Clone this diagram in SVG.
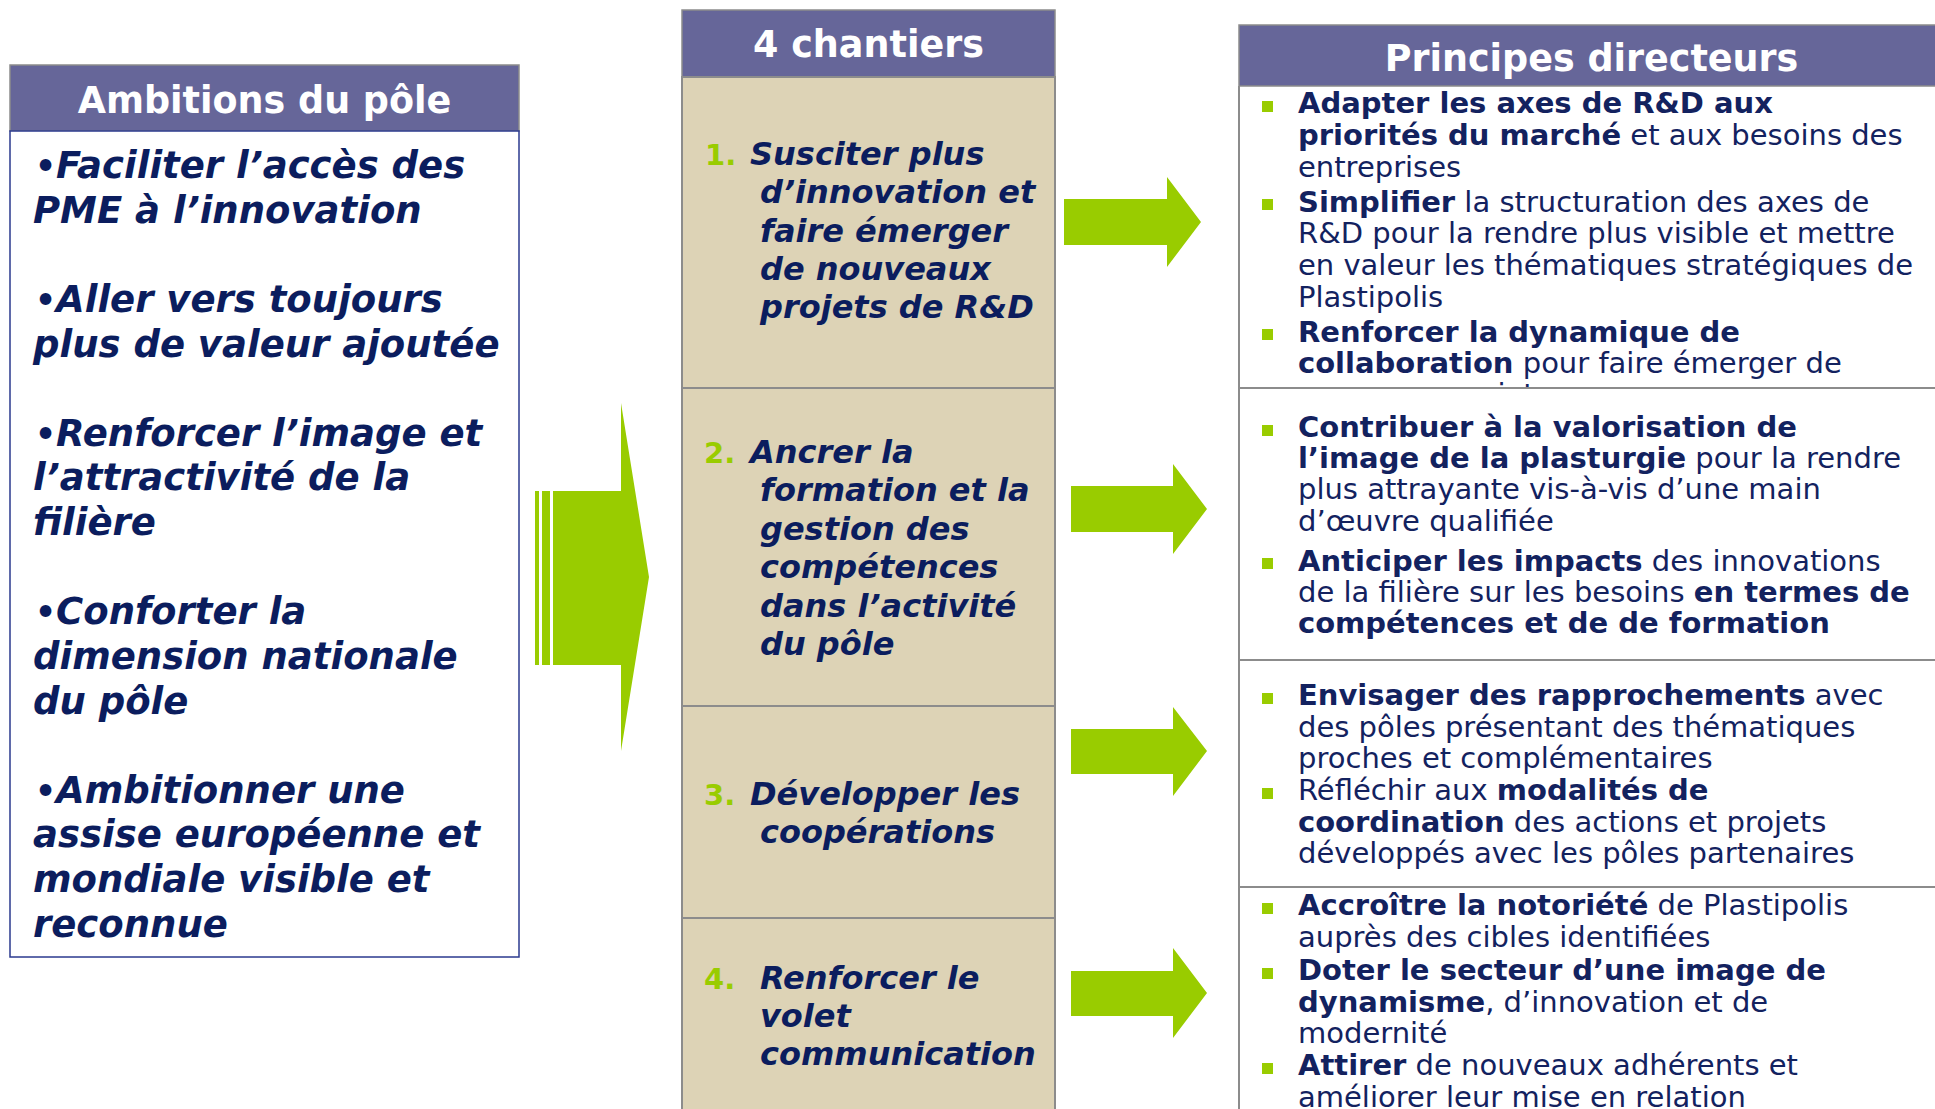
<svg xmlns="http://www.w3.org/2000/svg" width="1935" height="1109" viewBox="0 0 1935 1109">
<style>
.hdrbox{fill:#666699;stroke:#8c8c8c;stroke-width:1.5}
.hdr{font-family:"DejaVu Sans",Verdana,sans-serif;font-weight:bold;font-size:36.5px;fill:#ffffff;text-anchor:middle}
.amb{font-family:"DejaVu Sans",Verdana,sans-serif;font-weight:bold;font-style:italic;font-size:37px;fill:#0b1d5e}
.bul{font-style:normal;font-size:33px}
.ch{font-family:"DejaVu Sans",Verdana,sans-serif;font-weight:bold;font-style:italic;font-size:32px;fill:#0b1d5e}
.num{font-family:"DejaVu Sans",Verdana,sans-serif;font-weight:bold;font-size:29px;fill:#99cc00}
.pr{font-family:"DejaVu Sans",Verdana,sans-serif;font-size:29px;fill:#13225f}
.b{font-weight:bold}
.sep{stroke:#8c8c8c;stroke-width:2;fill:none}
.arrow{fill:#99cc00}
.sq{fill:#99cc00}
</style>
<defs>
<clipPath id="clip1"><rect x="1239" y="86" width="700" height="301"/></clipPath>
</defs>

<g id="ambitions">
<rect class="hdrbox" x="10" y="65" width="509" height="66"/>
<rect x="10" y="131" width="509" height="826" fill="#ffffff" stroke="#2b3a8f" stroke-width="1.5"/>
<text class="hdr" x="264.5" y="113">Ambitions du pôle</text>
<text class="amb">
<tspan x="35" y="178"><tspan class="bul">•</tspan>Faciliter l’accès des</tspan>
<tspan x="33" y="222.6">PME à l’innovation</tspan>
<tspan x="35" y="311.9"><tspan class="bul">•</tspan>Aller vers toujours</tspan>
<tspan x="33" y="356.5">plus de valeur ajoutée</tspan>
<tspan x="35" y="445.8"><tspan class="bul">•</tspan>Renforcer l’image et</tspan>
<tspan x="33" y="490.4">l’attractivité de la</tspan>
<tspan x="33" y="535">filière</tspan>
<tspan x="35" y="624.3"><tspan class="bul">•</tspan>Conforter la</tspan>
<tspan x="33" y="668.9">dimension nationale</tspan>
<tspan x="33" y="713.5">du pôle</tspan>
<tspan x="35" y="802.8"><tspan class="bul">•</tspan>Ambitionner une</tspan>
<tspan x="33" y="847.4">assise européenne et</tspan>
<tspan x="33" y="892">mondiale visible et</tspan>
<tspan x="33" y="936.6">reconnue</tspan>
</text>
</g>

<g id="chantiers">
<rect class="hdrbox" x="682" y="10" width="373" height="67"/>
<rect x="682" y="77" width="373" height="1040" fill="#ddd3b6" stroke="#8c8c8c" stroke-width="2"/>
<line class="sep" x1="682" y1="388" x2="1055" y2="388"/>
<line class="sep" x1="682" y1="706" x2="1055" y2="706"/>
<line class="sep" x1="682" y1="918" x2="1055" y2="918"/>
<text class="hdr" x="868.5" y="57">4 chantiers</text>
<g id="chantier1">
<text class="num" x="705" y="165">1.</text>
<text class="ch">
<tspan x="750" y="165">Susciter plus</tspan>
<tspan x="760" y="203.3">d’innovation et</tspan>
<tspan x="760" y="241.7">faire émerger</tspan>
<tspan x="760" y="280">de nouveaux</tspan>
<tspan x="760" y="318.3">projets de R&amp;D</tspan>
</text>
</g>
<g id="chantier2">
<text class="num" x="704" y="463">2.</text>
<text class="ch">
<tspan x="750" y="463">Ancrer la</tspan>
<tspan x="760" y="501.4">formation et la</tspan>
<tspan x="760" y="539.8">gestion des</tspan>
<tspan x="760" y="578.2">compétences</tspan>
<tspan x="760" y="616.6">dans l’activité</tspan>
<tspan x="760" y="655">du pôle</tspan>
</text>
</g>
<g id="chantier3">
<text class="num" x="704" y="805">3.</text>
<text class="ch">
<tspan x="750" y="805">Développer les</tspan>
<tspan x="760" y="843.3">coopérations</tspan>
</text>
</g>
<g id="chantier4">
<text class="num" x="704" y="989">4.</text>
<text class="ch">
<tspan x="760" y="989">Renforcer le</tspan>
<tspan x="760" y="1027">volet</tspan>
<tspan x="760" y="1065">communication</tspan>
</text>
</g>
</g>

<g id="principes">
<rect class="hdrbox" x="1239" y="25" width="700" height="61"/>
<line class="sep" x1="1239" y1="86" x2="1239" y2="1109"/>
<line class="sep" x1="1239" y1="388" x2="1935" y2="388"/>
<line class="sep" x1="1239" y1="660" x2="1935" y2="660"/>
<line class="sep" x1="1239" y1="887" x2="1935" y2="887"/>
<text class="hdr" x="1591.5" y="70.7">Principes directeurs</text>

<g id="principes1">
<rect class="sq" x="1262" y="101" width="11" height="11"/>
<rect class="sq" x="1262" y="199" width="11" height="11"/>
<rect class="sq" x="1262" y="329" width="11" height="11"/>
<text class="pr">
<tspan x="1298" y="112.7" class="b">Adapter les axes de R&amp;D aux</tspan>
<tspan x="1298" y="145"><tspan class="b">priorités du marché</tspan> et aux besoins des</tspan>
<tspan x="1298" y="176.7">entreprises</tspan>
<tspan x="1298" y="211.7"><tspan class="b">Simplifier</tspan> la structuration des axes de</tspan>
<tspan x="1298" y="243.3">R&amp;D pour la rendre plus visible et mettre</tspan>
<tspan x="1298" y="275">en valeur les thématiques stratégiques de</tspan>
<tspan x="1298" y="306.7">Plastipolis</tspan>
<tspan x="1298" y="341.7" class="b">Renforcer la dynamique de</tspan>
<tspan x="1298" y="372.7"><tspan class="b">collaboration</tspan> pour faire émerger de</tspan>
</text>
<text class="pr" x="1298" y="404.3" clip-path="url(#clip1)">nouveaux projets</text>
</g>

<g id="principes2">
<rect class="sq" x="1262" y="425" width="11" height="11"/>
<rect class="sq" x="1262" y="558" width="11" height="11"/>
<text class="pr">
<tspan x="1298" y="436.7" class="b">Contribuer à la valorisation de</tspan>
<tspan x="1298" y="468.3"><tspan class="b">l’image de la plasturgie</tspan> pour la rendre</tspan>
<tspan x="1298" y="499.3">plus attrayante vis-à-vis d’une main</tspan>
<tspan x="1298" y="530.7">d’œuvre qualifiée</tspan>
<tspan x="1298" y="570.7"><tspan class="b">Anticiper les impacts</tspan> des innovations</tspan>
<tspan x="1298" y="601.7">de la filière sur les besoins <tspan class="b">en termes de</tspan></tspan>
<tspan x="1298" y="633.3" class="b">compétences et de de formation</tspan>
</text>
</g>

<g id="principes3">
<rect class="sq" x="1262" y="693" width="11" height="11"/>
<rect class="sq" x="1262" y="788" width="11" height="11"/>
<text class="pr">
<tspan x="1298" y="705"><tspan class="b">Envisager des rapprochements</tspan> avec</tspan>
<tspan x="1298" y="736.7">des pôles présentant des thématiques</tspan>
<tspan x="1298" y="768.3">proches et complémentaires</tspan>
<tspan x="1298" y="800">Réfléchir aux <tspan class="b">modalités de</tspan></tspan>
<tspan x="1298" y="831.7"><tspan class="b">coordination</tspan> des actions et projets</tspan>
<tspan x="1298" y="863.3">développés avec les pôles partenaires</tspan>
</text>
</g>

<g id="principes4">
<rect class="sq" x="1262" y="903" width="11" height="11"/>
<rect class="sq" x="1262" y="968" width="11" height="11"/>
<rect class="sq" x="1262" y="1063" width="11" height="11"/>
<text class="pr">
<tspan x="1298" y="915"><tspan class="b">Accroître la notoriété</tspan> de Plastipolis</tspan>
<tspan x="1298" y="946.7">auprès des cibles identifiées</tspan>
<tspan x="1298" y="980" class="b">Doter le secteur d’une image de</tspan>
<tspan x="1298" y="1011.7"><tspan class="b">dynamisme</tspan>, d’innovation et de</tspan>
<tspan x="1298" y="1043.3">modernité</tspan>
<tspan x="1298" y="1075"><tspan class="b">Attirer</tspan> de nouveaux adhérents et</tspan>
<tspan x="1298" y="1106.7">améliorer leur mise en relation</tspan>
</text>
</g>
</g>

<g id="connectors">
<g id="bigarrow">
<rect class="arrow" x="535" y="491" width="4" height="174"/>
<rect class="arrow" x="542" y="491" width="8" height="174"/>
<polygon class="arrow" points="553,491 621,491 621,403 649,577 621,751 621,665 553,665"/>
</g>
<polygon class="arrow" points="1064,199 1167,199 1167,177 1201,222 1167,267 1167,245 1064,245"/>
<polygon class="arrow" points="1071,486 1173,486 1173,464 1207,509 1173,554 1173,532 1071,532"/>
<polygon class="arrow" points="1071,729 1173,729 1173,707 1207,751 1173,796 1173,774 1071,774"/>
<polygon class="arrow" points="1071,971 1173,971 1173,948 1207,993 1173,1038 1173,1016 1071,1016"/>
</g>
</svg>
